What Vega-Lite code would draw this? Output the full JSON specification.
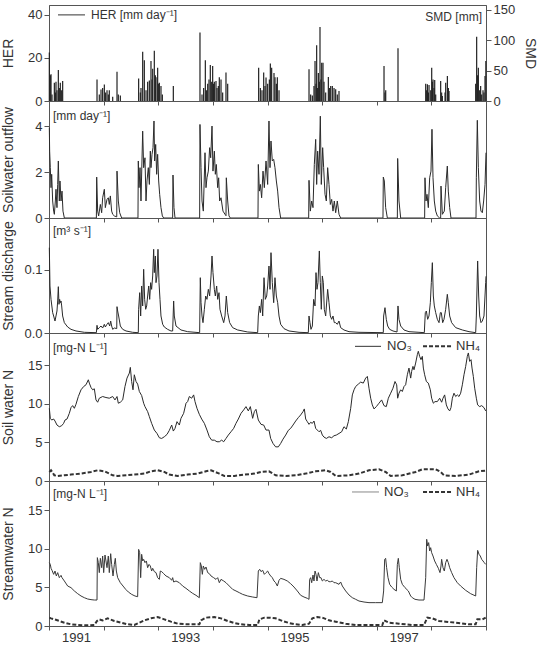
{
  "$schema": "https://vega.github.io/schema/vega-lite/v6.json",
  "background": "white",
  "padding": {"left": 0, "top": 3, "right": 2, "bottom": 0},
  "spacing": 0,
  "bounds": "flush",
  "config": {
    "font": "Liberation Sans",
    "view": {"stroke": "#555", "strokeWidth": 1},
    "axis": {"labelFontSize": 13, "labelColor": "#333", "titleFontSize": 14, "titleFontWeight": "normal", "titleColor": "#333", "tickColor": "#555", "domainColor": "#555", "tickSize": 4, "labelPadding": 2, "grid": false},
    "axisY": {"tickSize": 5, "titleX": -37, "titleBaseline": "alphabetic"},
    "text": {"color": "#333", "fontSize": 12}
  },
  "datasets": {
    "her": [
      {"t":1991.006,"v":22.5},{"t":1991.024,"v":12},{"t":1991.037,"v":12.4},{"t":1991.055,"v":3},{"t":1991.098,"v":8.5},{"t":1991.116,"v":4},{"t":1991.128,"v":9},{"t":1991.146,"v":5},{"t":1991.171,"v":14.4},{"t":1991.189,"v":6},{"t":1991.207,"v":8.5},{"t":1991.226,"v":5},{"t":1991.250,"v":9.3},
      {"t":1991.879,"v":10},{"t":1991.921,"v":3},{"t":1991.952,"v":5.4},{"t":1991.982,"v":6},{"t":1992.013,"v":7.7},{"t":1992.037,"v":4},{"t":1992.062,"v":5},{"t":1992.086,"v":3},{"t":1992.104,"v":5},{"t":1992.166,"v":2},{"t":1992.245,"v":13.6},{"t":1992.269,"v":3},{"t":1992.306,"v":2.5},
      {"t":1992.641,"v":10.5},{"t":1992.672,"v":4},{"t":1992.684,"v":6},{"t":1992.715,"v":22.9},{"t":1992.745,"v":18.9},{"t":1992.776,"v":5},{"t":1992.806,"v":9},{"t":1992.837,"v":9.5},{"t":1992.867,"v":18.6},{"t":1992.886,"v":10},{"t":1992.898,"v":15},{"t":1992.928,"v":23.3},{"t":1992.947,"v":12},{"t":1992.959,"v":11},{"t":1992.989,"v":15.5},{"t":1993.008,"v":8},{"t":1993.020,"v":8.5},{"t":1993.050,"v":7},{"t":1993.075,"v":3},{"t":1993.276,"v":7},
      {"t":1993.764,"v":31.8},{"t":1993.801,"v":3},{"t":1993.831,"v":6},{"t":1993.862,"v":18.9},{"t":1993.886,"v":5},{"t":1993.905,"v":8},{"t":1993.929,"v":10},{"t":1993.953,"v":16.7},{"t":1993.978,"v":9},{"t":1993.996,"v":16.3},{"t":1994.014,"v":8},{"t":1994.027,"v":9},{"t":1994.057,"v":9.3},{"t":1994.076,"v":6},{"t":1994.100,"v":7},{"t":1994.118,"v":11},{"t":1994.149,"v":10},{"t":1994.179,"v":4},{"t":1994.240,"v":13.2},{"t":1994.271,"v":8},
      {"t":1994.838,"v":15.5},{"t":1994.869,"v":6},{"t":1994.899,"v":5},{"t":1994.930,"v":13.2},{"t":1994.954,"v":7},{"t":1994.973,"v":10.9},{"t":1995.003,"v":8},{"t":1995.034,"v":10},{"t":1995.052,"v":17.4},{"t":1995.076,"v":15.5},{"t":1995.119,"v":13},{"t":1995.137,"v":11},{"t":1995.162,"v":8},{"t":1995.180,"v":11},{"t":1995.211,"v":5},
      {"t":1995.760,"v":14.7},{"t":1995.790,"v":3},{"t":1995.821,"v":2.5},{"t":1995.851,"v":7},{"t":1995.870,"v":18.6},{"t":1995.888,"v":8},{"t":1995.900,"v":25.9},{"t":1995.918,"v":6},{"t":1995.931,"v":13},{"t":1995.949,"v":9},{"t":1995.961,"v":34.4},{"t":1995.979,"v":10},{"t":1995.992,"v":17.8},{"t":1996.016,"v":17.8},{"t":1996.034,"v":9},{"t":1996.065,"v":4},{"t":1996.114,"v":11.2},{"t":1996.138,"v":6},{"t":1996.157,"v":7},{"t":1996.187,"v":7},{"t":1996.218,"v":6},{"t":1996.248,"v":5.5},{"t":1996.278,"v":3},{"t":1996.309,"v":4.6},
      {"t":1997.133,"v":16.3},{"t":1997.151,"v":4},{"t":1997.164,"v":5},{"t":1997.389,"v":24.5},
      {"t":1997.896,"v":8},{"t":1997.914,"v":5},{"t":1997.927,"v":7.8},{"t":1997.945,"v":4},{"t":1997.957,"v":7.4},{"t":1997.988,"v":5},{"t":1998.006,"v":15.5},{"t":1998.018,"v":9},{"t":1998.030,"v":10},{"t":1998.048,"v":6},{"t":1998.061,"v":9.8},{"t":1998.079,"v":3},{"t":1998.170,"v":9.3},{"t":1998.188,"v":4},{"t":1998.201,"v":2.3},{"t":1998.250,"v":4},{"t":1998.262,"v":8.5},{"t":1998.293,"v":11.6},{"t":1998.311,"v":6},{"t":1998.323,"v":4.6},
      {"t":1998.811,"v":8},{"t":1998.829,"v":29.8},{"t":1998.847,"v":12},{"t":1998.860,"v":15.5},{"t":1998.884,"v":5},{"t":1998.902,"v":7},{"t":1998.921,"v":3},{"t":1998.945,"v":5},{"t":1998.963,"v":4},{"t":1998.982,"v":11.6},{"t":1998.997,"v":18.6}
    ],
    "soilwater": [
      {"t":1991.006,"v":3.93},{"t":1991.012,"v":2.91},{"t":1991.024,"v":2.19},{"t":1991.037,"v":1.32},{"t":1991.049,"v":1.90},{"t":1991.067,"v":0.74},{"t":1991.085,"v":0.30},{"t":1991.098,"v":0.16},{"t":1991.116,"v":0.74},{"t":1991.128,"v":1.25},{"t":1991.146,"v":0.45},{"t":1991.159,"v":1.46},{"t":1991.171,"v":2.48},{"t":1991.189,"v":0.74},{"t":1991.201,"v":1.61},{"t":1991.220,"v":0.74},{"t":1991.238,"v":1.17},{"t":1991.256,"v":0.30},{"t":1991.281,"v":0},
      {"t":1991.867,"v":0},{"t":1991.873,"v":1.78},{"t":1991.891,"v":0.30},{"t":1991.909,"v":0.09},{"t":1991.940,"v":0.59},{"t":1991.964,"v":0.23},{"t":1991.982,"v":0.88},{"t":1992.013,"v":1.25},{"t":1992.031,"v":0.45},{"t":1992.062,"v":0.81},{"t":1992.086,"v":0.88},{"t":1992.104,"v":0.59},{"t":1992.123,"v":0.96},{"t":1992.147,"v":0.30},{"t":1992.166,"v":0.16},{"t":1992.196,"v":0.09},{"t":1992.240,"v":0.05},{"t":1992.245,"v":2.04},{"t":1992.269,"v":0.74},{"t":1992.294,"v":0.23},{"t":1992.330,"v":0},
      {"t":1992.629,"v":0},{"t":1992.635,"v":2.48},{"t":1992.648,"v":1.32},{"t":1992.666,"v":2.19},{"t":1992.684,"v":0.74},{"t":1992.715,"v":3.78},{"t":1992.733,"v":2.19},{"t":1992.757,"v":2.62},{"t":1992.776,"v":0.74},{"t":1992.794,"v":1.61},{"t":1992.818,"v":2.19},{"t":1992.837,"v":1.46},{"t":1992.855,"v":2.91},{"t":1992.867,"v":2.19},{"t":1992.886,"v":2.77},{"t":1992.904,"v":3.06},{"t":1992.922,"v":4.22},{"t":1992.934,"v":2.48},{"t":1992.953,"v":3.20},{"t":1992.971,"v":1.90},{"t":1992.989,"v":2.77},{"t":1993.008,"v":1.61},{"t":1993.026,"v":1.03},{"t":1993.050,"v":0.45},{"t":1993.075,"v":0.09},{"t":1993.099,"v":0},
      {"t":1993.264,"v":0},{"t":1993.270,"v":1.87},{"t":1993.288,"v":0.45},{"t":1993.307,"v":0},
      {"t":1993.758,"v":0},{"t":1993.764,"v":4.07},{"t":1993.783,"v":2.19},{"t":1993.801,"v":0.74},{"t":1993.825,"v":0.30},{"t":1993.856,"v":2.84},{"t":1993.874,"v":1.32},{"t":1993.892,"v":1.75},{"t":1993.917,"v":2.04},{"t":1993.941,"v":3.06},{"t":1993.960,"v":2.62},{"t":1993.984,"v":4.00},{"t":1994.002,"v":2.04},{"t":1994.027,"v":2.91},{"t":1994.045,"v":1.90},{"t":1994.063,"v":2.33},{"t":1994.088,"v":1.32},{"t":1994.106,"v":1.75},{"t":1994.124,"v":0.74},{"t":1994.149,"v":0.88},{"t":1994.185,"v":0.30},{"t":1994.222,"v":0.16},{"t":1994.240,"v":0.10},{"t":1994.246,"v":1.75},{"t":1994.271,"v":0.74},{"t":1994.295,"v":0.09},{"t":1994.320,"v":0},
      {"t":1994.826,"v":0},{"t":1994.832,"v":2.33},{"t":1994.851,"v":1.17},{"t":1994.869,"v":1.46},{"t":1994.893,"v":0.88},{"t":1994.918,"v":2.04},{"t":1994.942,"v":1.32},{"t":1994.973,"v":2.48},{"t":1995.003,"v":1.46},{"t":1995.027,"v":4.22},{"t":1995.046,"v":2.19},{"t":1995.064,"v":3.35},{"t":1995.088,"v":2.48},{"t":1995.113,"v":2.55},{"t":1995.137,"v":2.19},{"t":1995.162,"v":1.61},{"t":1995.186,"v":1.17},{"t":1995.211,"v":0.45},{"t":1995.241,"v":0},
      {"t":1995.754,"v":0},{"t":1995.760,"v":1.64},{"t":1995.784,"v":0.30},{"t":1995.809,"v":0.74},{"t":1995.833,"v":0.45},{"t":1995.857,"v":2.33},{"t":1995.882,"v":3.42},{"t":1995.900,"v":1.46},{"t":1995.918,"v":2.91},{"t":1995.943,"v":1.90},{"t":1995.967,"v":4.43},{"t":1995.985,"v":1.46},{"t":1996.010,"v":3.06},{"t":1996.028,"v":2.19},{"t":1996.053,"v":1.03},{"t":1996.077,"v":0.74},{"t":1996.101,"v":2.19},{"t":1996.126,"v":1.46},{"t":1996.150,"v":0.59},{"t":1996.175,"v":0.81},{"t":1996.199,"v":0.30},{"t":1996.223,"v":0.74},{"t":1996.248,"v":0.23},{"t":1996.278,"v":0.74},{"t":1996.309,"v":0.16},{"t":1996.339,"v":0},
      {"t":1997.114,"v":0},{"t":1997.120,"v":1.78},{"t":1997.139,"v":1.61},{"t":1997.163,"v":0.45},{"t":1997.194,"v":0},
      {"t":1997.377,"v":0},{"t":1997.383,"v":2.59},{"t":1997.407,"v":0.74},{"t":1997.438,"v":0},
      {"t":1997.877,"v":0},{"t":1997.883,"v":1.75},{"t":1997.902,"v":0.74},{"t":1997.920,"v":1.03},{"t":1997.944,"v":0.45},{"t":1997.969,"v":1.75},{"t":1997.993,"v":2.04},{"t":1998.011,"v":3.86},{"t":1998.030,"v":1.75},{"t":1998.054,"v":0.74},{"t":1998.079,"v":0.30},{"t":1998.109,"v":0.09},{"t":1998.152,"v":0},
      {"t":1998.170,"v":0},{"t":1998.176,"v":1.39},{"t":1998.201,"v":0.16},{"t":1998.237,"v":0.30},{"t":1998.262,"v":1.32},{"t":1998.292,"v":2.26},{"t":1998.310,"v":1.17},{"t":1998.335,"v":0.45},{"t":1998.359,"v":0},
      {"t":1998.817,"v":0},{"t":1998.823,"v":1.75},{"t":1998.841,"v":4.25},{"t":1998.860,"v":2.19},{"t":1998.884,"v":0.74},{"t":1998.908,"v":0.30},{"t":1998.933,"v":0.23},{"t":1998.957,"v":0.74},{"t":1998.982,"v":1.46},{"t":1999.000,"v":2.84}
    ],
    "discharge": [
      {"t":1991.006,"v":0.1354},{"t":1991.018,"v":0.0746},{"t":1991.037,"v":0.0534},{"t":1991.067,"v":0.0323},{"t":1991.085,"v":0.0270},{"t":1991.110,"v":0.0190},{"t":1991.128,"v":0.0270},{"t":1991.146,"v":0.0349},{"t":1991.159,"v":0.0508},{"t":1991.171,"v":0.0735},{"t":1991.183,"v":0.0455},{"t":1991.195,"v":0.0534},{"t":1991.207,"v":0.0481},{"t":1991.220,"v":0.0508},{"t":1991.232,"v":0.0429},{"t":1991.250,"v":0.0270},{"t":1991.281,"v":0.0164},{"t":1991.342,"v":0.0095},{"t":1991.403,"v":0.0058},{"t":1991.494,"v":0.0032},{"t":1991.647,"v":0.0011},{"t":1991.867,"v":0.0005},
      {"t":1991.879,"v":0.0122},{"t":1991.891,"v":0.0058},{"t":1991.921,"v":0.0085},{"t":1991.952,"v":0.0111},{"t":1991.982,"v":0.0079},{"t":1992.013,"v":0.0138},{"t":1992.031,"v":0.0095},{"t":1992.062,"v":0.0138},{"t":1992.086,"v":0.0164},{"t":1992.111,"v":0.0111},{"t":1992.129,"v":0.0190},{"t":1992.147,"v":0.0111},{"t":1992.166,"v":0.0058},{"t":1992.196,"v":0.0079},{"t":1992.240,"v":0.0070},{"t":1992.245,"v":0.0418},{"t":1992.257,"v":0.0349},{"t":1992.275,"v":0.0270},{"t":1992.306,"v":0.0111},{"t":1992.349,"v":0.0058},{"t":1992.410,"v":0.0032},{"t":1992.532,"v":0.0011},{"t":1992.635,"v":0.0005},
      {"t":1992.641,"v":0.0376},{"t":1992.660,"v":0.0640},{"t":1992.678,"v":0.0270},{"t":1992.696,"v":0.0746},{"t":1992.715,"v":0.0429},{"t":1992.733,"v":0.1011},{"t":1992.751,"v":0.0534},{"t":1992.770,"v":0.0376},{"t":1992.788,"v":0.0429},{"t":1992.806,"v":0.0587},{"t":1992.825,"v":0.0746},{"t":1992.843,"v":0.0534},{"t":1992.861,"v":0.0799},{"t":1992.879,"v":0.0693},{"t":1992.898,"v":0.0905},{"t":1992.916,"v":0.1328},{"t":1992.928,"v":0.0958},{"t":1992.947,"v":0.1222},{"t":1992.959,"v":0.0799},{"t":1992.977,"v":0.0905},{"t":1992.995,"v":0.1328},{"t":1993.014,"v":0.0799},{"t":1993.032,"v":0.0534},{"t":1993.050,"v":0.0270},{"t":1993.081,"v":0.0138},{"t":1993.111,"v":0.0095},{"t":1993.172,"v":0.0058},{"t":1993.233,"v":0.0032},{"t":1993.264,"v":0.0032},{"t":1993.282,"v":0.0508},{"t":1993.294,"v":0.0270},{"t":1993.325,"v":0.0111},{"t":1993.416,"v":0.0048},{"t":1993.538,"v":0.0021},{"t":1993.758,"v":0.0005},
      {"t":1993.770,"v":0.0878},{"t":1993.783,"v":0.0481},{"t":1993.801,"v":0.0270},{"t":1993.819,"v":0.0164},{"t":1993.844,"v":0.0376},{"t":1993.868,"v":0.0587},{"t":1993.892,"v":0.0534},{"t":1993.917,"v":0.0693},{"t":1993.941,"v":0.0587},{"t":1993.966,"v":0.0905},{"t":1993.984,"v":0.1222},{"t":1994.002,"v":0.0958},{"t":1994.027,"v":0.0693},{"t":1994.045,"v":0.0587},{"t":1994.069,"v":0.0746},{"t":1994.088,"v":0.0534},{"t":1994.112,"v":0.0640},{"t":1994.130,"v":0.0376},{"t":1994.161,"v":0.0270},{"t":1994.198,"v":0.0164},{"t":1994.222,"v":0.0270},{"t":1994.246,"v":0.0587},{"t":1994.271,"v":0.0323},{"t":1994.307,"v":0.0164},{"t":1994.362,"v":0.0085},{"t":1994.454,"v":0.0048},{"t":1994.637,"v":0.0016},{"t":1994.820,"v":0.0005},
      {"t":1994.832,"v":0.0270},{"t":1994.851,"v":0.0429},{"t":1994.869,"v":0.0323},{"t":1994.893,"v":0.0534},{"t":1994.912,"v":0.0270},{"t":1994.936,"v":0.0878},{"t":1994.960,"v":0.0534},{"t":1994.985,"v":0.0587},{"t":1995.003,"v":0.0746},{"t":1995.027,"v":0.1063},{"t":1995.046,"v":0.0693},{"t":1995.064,"v":0.1275},{"t":1995.088,"v":0.0799},{"t":1995.113,"v":0.0481},{"t":1995.137,"v":0.0878},{"t":1995.162,"v":0.0587},{"t":1995.186,"v":0.0481},{"t":1995.211,"v":0.0270},{"t":1995.241,"v":0.0138},{"t":1995.302,"v":0.0069},{"t":1995.394,"v":0.0032},{"t":1995.577,"v":0.0011},{"t":1995.747,"v":0.0005},
      {"t":1995.760,"v":0.0270},{"t":1995.778,"v":0.0164},{"t":1995.796,"v":0.0058},{"t":1995.821,"v":0.0111},{"t":1995.845,"v":0.0534},{"t":1995.870,"v":0.0429},{"t":1995.888,"v":0.0958},{"t":1995.906,"v":0.0693},{"t":1995.924,"v":0.0799},{"t":1995.949,"v":0.1302},{"t":1995.967,"v":0.0799},{"t":1995.985,"v":0.0376},{"t":1996.004,"v":0.0905},{"t":1996.022,"v":0.0799},{"t":1996.040,"v":0.0376},{"t":1996.065,"v":0.0270},{"t":1996.101,"v":0.0693},{"t":1996.126,"v":0.0481},{"t":1996.150,"v":0.0270},{"t":1996.175,"v":0.0217},{"t":1996.199,"v":0.0270},{"t":1996.223,"v":0.0164},{"t":1996.248,"v":0.0164},{"t":1996.278,"v":0.0138},{"t":1996.309,"v":0.0190},{"t":1996.339,"v":0.0085},{"t":1996.400,"v":0.0048},{"t":1996.492,"v":0.0021},{"t":1996.675,"v":0.0011},{"t":1997.120,"v":0.0005},
      {"t":1997.126,"v":0.0270},{"t":1997.151,"v":0.0402},{"t":1997.175,"v":0.0217},{"t":1997.200,"v":0.0111},{"t":1997.236,"v":0.0058},{"t":1997.297,"v":0.0032},{"t":1997.371,"v":0.0016},{"t":1997.389,"v":0.0429},{"t":1997.407,"v":0.0217},{"t":1997.438,"v":0.0111},{"t":1997.499,"v":0.0048},{"t":1997.590,"v":0.0021},{"t":1997.773,"v":0.0011},{"t":1997.871,"v":0.0005},
      {"t":1997.889,"v":0.0323},{"t":1997.908,"v":0.0349},{"t":1997.932,"v":0.0217},{"t":1997.956,"v":0.0270},{"t":1997.981,"v":0.0481},{"t":1997.999,"v":0.0799},{"t":1998.018,"v":0.1116},{"t":1998.036,"v":0.0587},{"t":1998.054,"v":0.0429},{"t":1998.079,"v":0.0323},{"t":1998.109,"v":0.0217},{"t":1998.140,"v":0.0164},{"t":1998.164,"v":0.0323},{"t":1998.182,"v":0.0323},{"t":1998.207,"v":0.0164},{"t":1998.231,"v":0.0217},{"t":1998.262,"v":0.0376},{"t":1998.292,"v":0.0614},{"t":1998.310,"v":0.0481},{"t":1998.335,"v":0.0270},{"t":1998.371,"v":0.0164},{"t":1998.445,"v":0.0085},{"t":1998.567,"v":0.0048},{"t":1998.689,"v":0.0021},{"t":1998.811,"v":0.0005},
      {"t":1998.823,"v":0.0270},{"t":1998.847,"v":0.1143},{"t":1998.866,"v":0.0587},{"t":1998.884,"v":0.0270},{"t":1998.908,"v":0.0164},{"t":1998.933,"v":0.0190},{"t":1998.963,"v":0.0270},{"t":1998.994,"v":0.0799},{"t":1999.000,"v":0.0900}
    ],
    "soilNO3": [
      {"t":1991.006,"v":9.43},{"t":1991.024,"v":8.13},{"t":1991.049,"v":7.91},{"t":1991.085,"v":8.04},{"t":1991.110,"v":7.78},{"t":1991.146,"v":7.26},{"t":1991.189,"v":7.04},{"t":1991.232,"v":7.17},{"t":1991.268,"v":7.48},{"t":1991.293,"v":7.91},{"t":1991.330,"v":8.04},{"t":1991.372,"v":8.78},{"t":1991.403,"v":9.52},{"t":1991.433,"v":9.78},{"t":1991.464,"v":9.43},{"t":1991.494,"v":9.96},{"t":1991.537,"v":10.96},{"t":1991.586,"v":11.83},{"t":1991.635,"v":12.26},{"t":1991.677,"v":12.48},{"t":1991.720,"v":13.13},{"t":1991.738,"v":12.70},{"t":1991.769,"v":12.13},{"t":1991.799,"v":11.83},{"t":1991.830,"v":11.96},{"t":1991.860,"v":10.52},{"t":1991.891,"v":10.22},{"t":1991.921,"v":10.74},{"t":1991.982,"v":10.96},{"t":1992.043,"v":10.83},{"t":1992.104,"v":10.74},{"t":1992.166,"v":10.96},{"t":1992.208,"v":10.52},{"t":1992.245,"v":10.96},{"t":1992.269,"v":10.09},{"t":1992.306,"v":10.22},{"t":1992.349,"v":10.52},{"t":1992.391,"v":12.26},{"t":1992.428,"v":13.35},{"t":1992.471,"v":14.00},{"t":1992.489,"v":14.74},{"t":1992.513,"v":12.91},{"t":1992.538,"v":11.83},{"t":1992.562,"v":13.78},{"t":1992.593,"v":12.91},{"t":1992.623,"v":12.57},{"t":1992.654,"v":11.61},{"t":1992.696,"v":11.09},{"t":1992.733,"v":10.09},{"t":1992.757,"v":9.65},{"t":1992.806,"v":9.00},{"t":1992.837,"v":8.35},{"t":1992.879,"v":7.48},{"t":1992.928,"v":6.61},{"t":1992.977,"v":6.17},{"t":1993.020,"v":5.61},{"t":1993.063,"v":5.52},{"t":1993.111,"v":5.74},{"t":1993.160,"v":6.04},{"t":1993.203,"v":6.57},{"t":1993.246,"v":7.26},{"t":1993.276,"v":6.48},{"t":1993.307,"v":6.83},{"t":1993.343,"v":7.70},{"t":1993.386,"v":7.26},{"t":1993.416,"v":8.13},{"t":1993.465,"v":8.78},{"t":1993.508,"v":10.09},{"t":1993.538,"v":10.30},{"t":1993.569,"v":10.96},{"t":1993.612,"v":10.74},{"t":1993.648,"v":11.17},{"t":1993.673,"v":10.30},{"t":1993.709,"v":9.43},{"t":1993.752,"v":8.65},{"t":1993.795,"v":8.04},{"t":1993.844,"v":7.48},{"t":1993.892,"v":6.61},{"t":1993.935,"v":5.74},{"t":1993.978,"v":5.30},{"t":1994.027,"v":5.30},{"t":1994.075,"v":5.09},{"t":1994.118,"v":5.09},{"t":1994.161,"v":5.30},{"t":1994.198,"v":5.09},{"t":1994.240,"v":5.52},{"t":1994.283,"v":5.96},{"t":1994.332,"v":6.39},{"t":1994.381,"v":6.83},{"t":1994.423,"v":7.48},{"t":1994.466,"v":8.04},{"t":1994.515,"v":8.78},{"t":1994.564,"v":9.22},{"t":1994.606,"v":9.65},{"t":1994.649,"v":9.09},{"t":1994.686,"v":9.65},{"t":1994.728,"v":8.13},{"t":1994.759,"v":9.00},{"t":1994.789,"v":9.30},{"t":1994.832,"v":7.91},{"t":1994.881,"v":7.35},{"t":1994.930,"v":7.26},{"t":1994.973,"v":6.61},{"t":1995.027,"v":6.61},{"t":1995.058,"v":5.52},{"t":1995.101,"v":4.87},{"t":1995.149,"v":4.43},{"t":1995.198,"v":4.43},{"t":1995.241,"v":4.87},{"t":1995.284,"v":5.43},{"t":1995.333,"v":5.96},{"t":1995.381,"v":6.57},{"t":1995.424,"v":6.83},{"t":1995.467,"v":7.26},{"t":1995.516,"v":7.78},{"t":1995.564,"v":8.22},{"t":1995.607,"v":8.57},{"t":1995.650,"v":9.00},{"t":1995.674,"v":9.35},{"t":1995.699,"v":8.04},{"t":1995.729,"v":7.70},{"t":1995.760,"v":7.35},{"t":1995.790,"v":7.61},{"t":1995.821,"v":7.48},{"t":1995.851,"v":7.78},{"t":1995.882,"v":6.83},{"t":1995.912,"v":6.61},{"t":1995.943,"v":6.39},{"t":1995.973,"v":6.57},{"t":1996.004,"v":5.96},{"t":1996.034,"v":5.70},{"t":1996.077,"v":5.52},{"t":1996.126,"v":5.74},{"t":1996.175,"v":5.61},{"t":1996.217,"v":5.87},{"t":1996.260,"v":5.96},{"t":1996.309,"v":6.17},{"t":1996.358,"v":6.39},{"t":1996.400,"v":7.04},{"t":1996.443,"v":6.74},{"t":1996.480,"v":7.70},{"t":1996.523,"v":9.43},{"t":1996.553,"v":11.17},{"t":1996.584,"v":11.83},{"t":1996.614,"v":12.26},{"t":1996.663,"v":12.57},{"t":1996.706,"v":12.83},{"t":1996.754,"v":12.70},{"t":1996.797,"v":13.35},{"t":1996.828,"v":13.57},{"t":1996.858,"v":12.04},{"t":1996.889,"v":10.74},{"t":1996.919,"v":9.87},{"t":1996.950,"v":9.35},{"t":1996.992,"v":9.65},{"t":1997.041,"v":10.09},{"t":1997.089,"v":10.52},{"t":1997.132,"v":9.78},{"t":1997.175,"v":9.65},{"t":1997.212,"v":10.74},{"t":1997.255,"v":11.39},{"t":1997.297,"v":12.04},{"t":1997.334,"v":12.91},{"t":1997.365,"v":12.48},{"t":1997.383,"v":10.74},{"t":1997.407,"v":11.39},{"t":1997.438,"v":11.83},{"t":1997.468,"v":11.61},{"t":1997.499,"v":12.26},{"t":1997.529,"v":12.48},{"t":1997.560,"v":13.78},{"t":1997.590,"v":14.65},{"t":1997.621,"v":13.35},{"t":1997.639,"v":14.22},{"t":1997.663,"v":14.87},{"t":1997.682,"v":14.43},{"t":1997.712,"v":15.30},{"t":1997.743,"v":16.39},{"t":1997.761,"v":16.83},{"t":1997.785,"v":16.17},{"t":1997.810,"v":15.74},{"t":1997.834,"v":16.17},{"t":1997.853,"v":14.65},{"t":1997.877,"v":13.78},{"t":1997.908,"v":12.91},{"t":1997.944,"v":12.70},{"t":1997.981,"v":11.83},{"t":1998.005,"v":10.74},{"t":1998.036,"v":10.09},{"t":1998.066,"v":10.30},{"t":1998.109,"v":10.30},{"t":1998.152,"v":10.74},{"t":1998.188,"v":10.22},{"t":1998.213,"v":10.74},{"t":1998.243,"v":11.17},{"t":1998.274,"v":9.87},{"t":1998.304,"v":9.35},{"t":1998.335,"v":9.09},{"t":1998.359,"v":9.52},{"t":1998.384,"v":10.74},{"t":1998.414,"v":11.39},{"t":1998.445,"v":10.96},{"t":1998.475,"v":11.17},{"t":1998.506,"v":10.96},{"t":1998.536,"v":11.39},{"t":1998.567,"v":12.48},{"t":1998.597,"v":13.78},{"t":1998.628,"v":14.87},{"t":1998.658,"v":16.17},{"t":1998.677,"v":16.61},{"t":1998.701,"v":15.52},{"t":1998.726,"v":15.74},{"t":1998.744,"v":14.65},{"t":1998.768,"v":13.57},{"t":1998.793,"v":12.04},{"t":1998.823,"v":10.74},{"t":1998.847,"v":9.87},{"t":1998.884,"v":9.65},{"t":1998.921,"v":9.78},{"t":1998.963,"v":9.52},{"t":1998.994,"v":9.09}
    ],
    "soilNH4": [
      {"t":1991.006,"v":1.17},{"t":1991.037,"v":1.39},{"t":1991.067,"v":1.09},{"t":1991.098,"v":0.74},{"t":1991.159,"v":0.65},{"t":1991.281,"v":0.74},{"t":1991.403,"v":0.83},{"t":1991.586,"v":0.96},{"t":1991.769,"v":1.17},{"t":1991.891,"v":1.39},{"t":1992.013,"v":1.26},{"t":1992.104,"v":0.96},{"t":1992.166,"v":0.74},{"t":1992.257,"v":0.65},{"t":1992.562,"v":0.83},{"t":1992.745,"v":0.96},{"t":1992.867,"v":1.26},{"t":1992.989,"v":1.39},{"t":1993.111,"v":1.17},{"t":1993.203,"v":0.83},{"t":1993.355,"v":0.65},{"t":1993.538,"v":0.83},{"t":1993.722,"v":0.96},{"t":1993.874,"v":1.26},{"t":1993.966,"v":1.39},{"t":1994.118,"v":0.96},{"t":1994.210,"v":0.65},{"t":1994.393,"v":0.65},{"t":1994.576,"v":0.83},{"t":1994.759,"v":0.96},{"t":1994.881,"v":1.17},{"t":1995.027,"v":1.26},{"t":1995.149,"v":0.74},{"t":1995.333,"v":0.65},{"t":1995.516,"v":0.74},{"t":1995.699,"v":0.96},{"t":1995.882,"v":1.26},{"t":1996.065,"v":1.39},{"t":1996.156,"v":1.17},{"t":1996.248,"v":0.65},{"t":1996.492,"v":0.74},{"t":1996.675,"v":0.96},{"t":1996.858,"v":1.39},{"t":1997.041,"v":1.52},{"t":1997.163,"v":1.17},{"t":1997.255,"v":0.65},{"t":1997.468,"v":0.74},{"t":1997.712,"v":1.17},{"t":1997.834,"v":1.52},{"t":1998.079,"v":1.52},{"t":1998.170,"v":1.17},{"t":1998.231,"v":0.74},{"t":1998.445,"v":0.65},{"t":1998.689,"v":0.83},{"t":1998.872,"v":1.26},{"t":1998.994,"v":1.35}
    ],
    "streamNO3": [
      {"t":1991.006,"v":8.19},{"t":1991.024,"v":7.97},{"t":1991.037,"v":7.46},{"t":1991.055,"v":7.20},{"t":1991.085,"v":6.68},{"t":1991.110,"v":7.11},{"t":1991.134,"v":6.47},{"t":1991.159,"v":6.90},{"t":1991.189,"v":6.25},{"t":1991.220,"v":6.55},{"t":1991.238,"v":6.25},{"t":1991.281,"v":5.82},{"t":1991.342,"v":5.17},{"t":1991.403,"v":4.96},{"t":1991.464,"v":4.53},{"t":1991.525,"v":4.18},{"t":1991.586,"v":3.88},{"t":1991.647,"v":3.66},{"t":1991.708,"v":3.49},{"t":1991.769,"v":3.41},{"t":1991.830,"v":3.36},{"t":1991.879,"v":3.36},
      {"t":1991.885,"v":8.84},{"t":1991.903,"v":8.19},{"t":1991.921,"v":6.90},{"t":1991.940,"v":8.75},{"t":1991.964,"v":7.54},{"t":1991.982,"v":9.05},{"t":1992.001,"v":6.90},{"t":1992.025,"v":9.18},{"t":1992.043,"v":8.41},{"t":1992.062,"v":7.54},{"t":1992.086,"v":9.05},{"t":1992.104,"v":6.90},{"t":1992.129,"v":9.35},{"t":1992.147,"v":7.97},{"t":1992.172,"v":6.47},{"t":1992.196,"v":7.97},{"t":1992.214,"v":8.75},{"t":1992.233,"v":7.11},{"t":1992.257,"v":6.25},{"t":1992.306,"v":5.60},{"t":1992.355,"v":5.17},{"t":1992.404,"v":4.74},{"t":1992.452,"v":4.40},{"t":1992.513,"v":4.09},{"t":1992.574,"v":3.88},{"t":1992.623,"v":3.79},
      {"t":1992.641,"v":9.91},{"t":1992.660,"v":9.48},{"t":1992.678,"v":6.25},{"t":1992.696,"v":9.27},{"t":1992.715,"v":8.41},{"t":1992.733,"v":8.62},{"t":1992.757,"v":8.19},{"t":1992.782,"v":8.41},{"t":1992.806,"v":7.54},{"t":1992.831,"v":7.97},{"t":1992.855,"v":7.76},{"t":1992.879,"v":7.11},{"t":1992.898,"v":7.46},{"t":1992.928,"v":7.03},{"t":1992.959,"v":6.90},{"t":1992.989,"v":6.25},{"t":1993.020,"v":6.03},{"t":1993.038,"v":7.11},{"t":1993.063,"v":7.03},{"t":1993.099,"v":6.77},{"t":1993.142,"v":6.47},{"t":1993.203,"v":6.25},{"t":1993.246,"v":5.91},{"t":1993.264,"v":6.25},{"t":1993.282,"v":5.69},{"t":1993.325,"v":5.82},{"t":1993.386,"v":5.60},{"t":1993.447,"v":5.17},{"t":1993.508,"v":4.87},{"t":1993.569,"v":4.53},{"t":1993.630,"v":4.22},{"t":1993.691,"v":3.97},{"t":1993.752,"v":3.66},
      {"t":1993.770,"v":8.19},{"t":1993.789,"v":7.76},{"t":1993.807,"v":6.68},{"t":1993.825,"v":7.76},{"t":1993.850,"v":7.33},{"t":1993.874,"v":7.63},{"t":1993.905,"v":6.90},{"t":1993.935,"v":6.77},{"t":1993.966,"v":6.47},{"t":1994.014,"v":6.25},{"t":1994.057,"v":6.03},{"t":1994.088,"v":6.25},{"t":1994.118,"v":5.60},{"t":1994.149,"v":6.03},{"t":1994.198,"v":5.82},{"t":1994.240,"v":5.60},{"t":1994.301,"v":5.17},{"t":1994.362,"v":4.74},{"t":1994.423,"v":4.53},{"t":1994.484,"v":4.31},{"t":1994.545,"v":4.09},{"t":1994.637,"v":3.88},{"t":1994.728,"v":3.75},{"t":1994.808,"v":3.66},
      {"t":1994.832,"v":7.11},{"t":1994.857,"v":7.33},{"t":1994.881,"v":7.03},{"t":1994.912,"v":7.20},{"t":1994.942,"v":6.68},{"t":1994.973,"v":6.90},{"t":1995.003,"v":7.11},{"t":1995.027,"v":6.77},{"t":1995.058,"v":6.47},{"t":1995.088,"v":6.25},{"t":1995.119,"v":5.82},{"t":1995.149,"v":5.60},{"t":1995.180,"v":5.17},{"t":1995.211,"v":5.91},{"t":1995.241,"v":6.16},{"t":1995.302,"v":6.03},{"t":1995.363,"v":5.82},{"t":1995.424,"v":5.47},{"t":1995.485,"v":5.04},{"t":1995.546,"v":4.53},{"t":1995.607,"v":3.97},{"t":1995.668,"v":3.75},{"t":1995.729,"v":3.58},{"t":1995.760,"v":3.45},
      {"t":1995.772,"v":6.03},{"t":1995.790,"v":6.25},{"t":1995.809,"v":5.60},{"t":1995.833,"v":6.59},{"t":1995.851,"v":5.82},{"t":1995.870,"v":7.11},{"t":1995.888,"v":6.68},{"t":1995.906,"v":5.82},{"t":1995.931,"v":6.90},{"t":1995.955,"v":6.25},{"t":1995.979,"v":6.25},{"t":1996.004,"v":5.82},{"t":1996.034,"v":6.03},{"t":1996.065,"v":5.82},{"t":1996.095,"v":5.91},{"t":1996.126,"v":5.73},{"t":1996.156,"v":5.73},{"t":1996.187,"v":5.82},{"t":1996.217,"v":5.60},{"t":1996.248,"v":5.60},{"t":1996.309,"v":5.39},{"t":1996.339,"v":5.69},{"t":1996.370,"v":5.17},{"t":1996.431,"v":4.53},{"t":1996.492,"v":4.01},{"t":1996.553,"v":3.66},{"t":1996.614,"v":3.45},{"t":1996.675,"v":3.23},{"t":1996.767,"v":3.10},{"t":1996.858,"v":3.02},{"t":1996.980,"v":3.02},{"t":1997.102,"v":3.02},
      {"t":1997.126,"v":4.53},{"t":1997.145,"v":8.62},{"t":1997.163,"v":8.75},{"t":1997.181,"v":7.54},{"t":1997.206,"v":6.25},{"t":1997.236,"v":5.39},{"t":1997.273,"v":5.04},{"t":1997.316,"v":4.74},{"t":1997.359,"v":4.53},{"t":1997.377,"v":7.97},{"t":1997.395,"v":8.75},{"t":1997.413,"v":7.54},{"t":1997.438,"v":6.03},{"t":1997.468,"v":5.39},{"t":1997.517,"v":4.96},{"t":1997.578,"v":4.53},{"t":1997.621,"v":3.88},{"t":1997.651,"v":3.66},{"t":1997.700,"v":3.45},{"t":1997.773,"v":3.36},{"t":1997.865,"v":3.36},
      {"t":1997.896,"v":6.25},{"t":1997.914,"v":11.21},{"t":1997.932,"v":10.34},{"t":1997.950,"v":10.78},{"t":1997.969,"v":9.70},{"t":1997.987,"v":10.13},{"t":1998.005,"v":9.48},{"t":1998.030,"v":9.05},{"t":1998.060,"v":8.41},{"t":1998.091,"v":7.97},{"t":1998.128,"v":7.46},{"t":1998.158,"v":6.90},{"t":1998.176,"v":7.76},{"t":1998.188,"v":8.62},{"t":1998.213,"v":7.54},{"t":1998.237,"v":7.11},{"t":1998.262,"v":8.19},{"t":1998.286,"v":8.62},{"t":1998.310,"v":8.19},{"t":1998.335,"v":7.54},{"t":1998.371,"v":6.90},{"t":1998.414,"v":6.25},{"t":1998.475,"v":5.60},{"t":1998.536,"v":5.17},{"t":1998.628,"v":4.61},{"t":1998.719,"v":4.18},{"t":1998.811,"v":3.88},
      {"t":1998.829,"v":7.54},{"t":1998.847,"v":9.78},{"t":1998.872,"v":9.27},{"t":1998.896,"v":9.05},{"t":1998.921,"v":8.62},{"t":1998.945,"v":8.41},{"t":1998.969,"v":8.19},{"t":1998.994,"v":7.97}
    ],
    "streamNH4": [
      {"t":1991.006,"v":1.08},{"t":1991.037,"v":0.99},{"t":1991.098,"v":0.86},{"t":1991.189,"v":0.65},{"t":1991.281,"v":0.43},{"t":1991.403,"v":0.22},{"t":1991.525,"v":0.13},{"t":1991.708,"v":0.09},{"t":1991.830,"v":0.13},{"t":1991.879,"v":0.65},{"t":1991.921,"v":0.86},{"t":1991.982,"v":0.73},{"t":1992.074,"v":0.99},{"t":1992.196,"v":0.65},{"t":1992.318,"v":0.43},{"t":1992.440,"v":0.22},{"t":1992.562,"v":0.13},{"t":1992.654,"v":0.43},{"t":1992.745,"v":0.73},{"t":1992.867,"v":0.99},{"t":1992.989,"v":1.16},{"t":1993.111,"v":0.86},{"t":1993.233,"v":0.56},{"t":1993.355,"v":0.30},{"t":1993.538,"v":0.22},{"t":1993.752,"v":0.22},{"t":1993.783,"v":0.73},{"t":1993.874,"v":1.08},{"t":1994.027,"v":1.16},{"t":1994.149,"v":0.99},{"t":1994.271,"v":0.65},{"t":1994.393,"v":0.39},{"t":1994.515,"v":0.22},{"t":1994.667,"v":0.13},{"t":1994.820,"v":0.13},{"t":1994.851,"v":0.86},{"t":1994.942,"v":1.08},{"t":1995.027,"v":1.08},{"t":1995.149,"v":0.99},{"t":1995.272,"v":0.65},{"t":1995.394,"v":0.39},{"t":1995.516,"v":0.22},{"t":1995.638,"v":0.13},{"t":1995.760,"v":0.30},{"t":1995.821,"v":0.99},{"t":1995.912,"v":1.16},{"t":1996.004,"v":1.08},{"t":1996.126,"v":0.73},{"t":1996.248,"v":0.56},{"t":1996.431,"v":0.30},{"t":1996.614,"v":0.13},{"t":1996.858,"v":0.13},{"t":1997.102,"v":0.13},{"t":1997.132,"v":0.73},{"t":1997.224,"v":0.43},{"t":1997.407,"v":0.30},{"t":1997.651,"v":0.13},{"t":1997.865,"v":0.13},{"t":1997.926,"v":1.08},{"t":1998.018,"v":0.99},{"t":1998.140,"v":0.65},{"t":1998.262,"v":0.56},{"t":1998.445,"v":0.43},{"t":1998.689,"v":0.22},{"t":1998.811,"v":0.22},{"t":1998.841,"v":0.86},{"t":1998.933,"v":0.86},{"t":1998.994,"v":1.08}
    ]
  },
  "vconcat": [
    {
      "width": 437,
      "height": 96,
      "layer": [
        {
          "layer": [
            {
              "data": {"name": "her"},
              "mark": {"type": "rule", "color": "#222", "strokeWidth": 1.2},
              "encoding": {
                "x": {"field": "t", "type": "quantitative", "scale": {"domain": [1991, 1999], "nice": false, "zero": false}, "axis": {"title": null, "values": [1991, 1992, 1993, 1994, 1995, 1996, 1997, 1998, 1999], "labels": false}},
                "y": {"field": "v", "type": "quantitative", "scale": {"domain": [0, 44.6], "nice": false}, "axis": {"title": "HER", "values": [0, 20, 40]}},
                "y2": {"datum": 0}
              }
            },
            {
              "data": {"values": [{}]},
              "mark": {"type": "rule", "color": "#333", "strokeWidth": 1},
              "encoding": {
                "x": {"datum": 1991.165, "type": "quantitative"},
                "x2": {"datum": 1991.659},
                "y": {"datum": 40, "type": "quantitative", "scale": {"domain": [0, 44.6], "nice": false}}
              }
            },
            {
              "data": {"values": [{}]},
              "mark": {"type": "text", "align": "left", "baseline": "middle"},
              "encoding": {
                "x": {"datum": 1991.769, "type": "quantitative"},
                "y": {"datum": 40, "type": "quantitative", "scale": {"domain": [0, 44.6], "nice": false}},
                "text": {"value": "HER  [mm day⁻¹]"}
              }
            }
          ]
        },
        {
          "data": {"values": [{}]},
          "mark": {"type": "text", "align": "right", "baseline": "middle"},
          "encoding": {
            "x": {"datum": 1998.927, "type": "quantitative"},
            "y": {"datum": 138, "type": "quantitative", "scale": {"domain": [0, 158], "nice": false}, "axis": {"orient": "right", "title": "SMD", "values": [0, 50, 100, 150], "titleX": 39, "titleBaseline": "alphabetic"}},
            "text": {"value": "SMD [mm]"}
          }
        }
      ],
      "resolve": {"scale": {"y": "independent"}}
    },
    {
      "width": 437,
      "height": 117,
      "layer": [
        {
          "data": {"name": "soilwater"},
          "mark": {"type": "line", "color": "#2a2a2a", "strokeWidth": 1},
          "encoding": {
            "x": {"field": "t", "type": "quantitative", "scale": {"domain": [1991, 1999], "nice": false, "zero": false}, "axis": {"title": null, "values": [1991, 1992, 1993, 1994, 1995, 1996, 1997, 1998, 1999], "labels": false}},
            "y": {"field": "v", "type": "quantitative", "scale": {"domain": [0, 5.09], "nice": false}, "axis": {"title": "Soilwater outflow", "values": [0, 2, 4]}}
          }
        },
        {
          "data": {"values": [{}]},
          "mark": {"type": "text", "align": "left", "baseline": "middle"},
          "encoding": {
            "x": {"datum": 1991.073, "type": "quantitative"},
            "y": {"datum": 4.43, "type": "quantitative"},
            "text": {"value": "[mm day⁻¹]"}
          }
        }
      ]
    },
    {
      "width": 437,
      "height": 115,
      "layer": [
        {
          "data": {"name": "discharge"},
          "mark": {"type": "line", "color": "#2a2a2a", "strokeWidth": 1},
          "encoding": {
            "x": {"field": "t", "type": "quantitative", "scale": {"domain": [1991, 1999], "nice": false, "zero": false}, "axis": {"title": null, "values": [1991, 1992, 1993, 1994, 1995, 1996, 1997, 1998, 1999], "labels": false}},
            "y": {"field": "v", "type": "quantitative", "scale": {"domain": [0, 0.1825], "nice": false}, "axis": {"title": "Stream discharge", "values": [0, 0.1], "format": ".1f"}}
          }
        },
        {
          "data": {"values": [{}]},
          "mark": {"type": "text", "align": "left", "baseline": "middle"},
          "encoding": {
            "x": {"datum": 1991.073, "type": "quantitative"},
            "y": {"datum": 0.162, "type": "quantitative"},
            "text": {"value": "[m³ s⁻¹]"}
          }
        }
      ]
    },
    {
      "width": 437,
      "height": 148,
      "layer": [
        {
          "data": {"name": "soilNO3"},
          "mark": {"type": "line", "color": "#2a2a2a", "strokeWidth": 1},
          "encoding": {
            "x": {"field": "t", "type": "quantitative", "scale": {"domain": [1991, 1999], "nice": false, "zero": false}, "axis": {"title": null, "values": [1991, 1992, 1993, 1994, 1995, 1996, 1997, 1998, 1999], "labels": false}},
            "y": {"field": "v", "type": "quantitative", "scale": {"domain": [0, 19.2], "nice": false}, "axis": {"title": "Soil water N", "values": [0, 5, 10, 15]}}
          }
        },
        {
          "data": {"name": "soilNH4"},
          "mark": {"type": "line", "color": "#333", "strokeWidth": 2, "strokeDash": [4, 2]},
          "encoding": {
            "x": {"field": "t", "type": "quantitative"},
            "y": {"field": "v", "type": "quantitative"}
          }
        },
        {
          "data": {"values": [{}]},
          "mark": {"type": "text", "align": "left", "baseline": "middle"},
          "encoding": {"x": {"datum": 1991.073, "type": "quantitative"}, "y": {"datum": 17.2, "type": "quantitative"}, "text": {"value": "[mg-N L⁻¹]"}}
        },
        {
          "data": {"values": [{}]},
          "mark": {"type": "rule", "color": "#333", "strokeWidth": 1},
          "encoding": {"x": {"datum": 1996.602, "type": "quantitative"}, "x2": {"datum": 1997.078}, "y": {"datum": 17.47, "type": "quantitative"}}
        },
        {
          "data": {"values": [{}]},
          "mark": {"type": "text", "align": "left", "baseline": "middle", "fontSize": 13},
          "encoding": {"x": {"datum": 1997.188, "type": "quantitative"}, "y": {"datum": 17.47, "type": "quantitative"}, "text": {"value": "NO₃"}}
        },
        {
          "data": {"values": [{}]},
          "mark": {"type": "rule", "color": "#333", "strokeWidth": 2, "strokeDash": [4, 2]},
          "encoding": {"x": {"datum": 1997.847, "type": "quantitative"}, "x2": {"datum": 1998.378}, "y": {"datum": 17.47, "type": "quantitative"}}
        },
        {
          "data": {"values": [{}]},
          "mark": {"type": "text", "align": "left", "baseline": "middle", "fontSize": 13},
          "encoding": {"x": {"datum": 1998.451, "type": "quantitative"}, "y": {"datum": 17.47, "type": "quantitative"}, "text": {"value": "NH₄"}}
        }
      ]
    },
    {
      "width": 437,
      "height": 145,
      "layer": [
        {
          "data": {"name": "streamNO3"},
          "mark": {"type": "line", "color": "#3a3a3a", "strokeWidth": 1},
          "encoding": {
            "x": {"field": "t", "type": "quantitative", "scale": {"domain": [1991, 1999], "nice": false, "zero": false}, "axis": {"title": null, "values": [1991, 1992, 1993, 1994, 1995, 1996, 1997, 1998, 1999], "format": "d", "labelExpr": "datum.value % 2 == 1 && datum.value < 1999 ? datum.label : ''", "labelOffset": 27, "labelFlush": false, "labelOverlap": false, "labelPadding": 1}},
            "y": {"field": "v", "type": "quantitative", "scale": {"domain": [0, 18.75], "nice": false}, "axis": {"title": "Streamwater N", "values": [0, 5, 10, 15]}}
          }
        },
        {
          "data": {"name": "streamNH4"},
          "mark": {"type": "line", "color": "#333", "strokeWidth": 2, "strokeDash": [4, 2]},
          "encoding": {
            "x": {"field": "t", "type": "quantitative"},
            "y": {"field": "v", "type": "quantitative"}
          }
        },
        {
          "data": {"values": [{}]},
          "mark": {"type": "text", "align": "left", "baseline": "middle"},
          "encoding": {"x": {"datum": 1991.073, "type": "quantitative"}, "y": {"datum": 17.08, "type": "quantitative"}, "text": {"value": "[mg-N L⁻¹]"}}
        },
        {
          "data": {"values": [{}]},
          "mark": {"type": "rule", "color": "#888", "strokeWidth": 1},
          "encoding": {"x": {"datum": 1996.547, "type": "quantitative"}, "x2": {"datum": 1997.041}, "y": {"datum": 17.33, "type": "quantitative"}}
        },
        {
          "data": {"values": [{}]},
          "mark": {"type": "text", "align": "left", "baseline": "middle", "fontSize": 13},
          "encoding": {"x": {"datum": 1997.133, "type": "quantitative"}, "y": {"datum": 17.33, "type": "quantitative"}, "text": {"value": "NO₃"}}
        },
        {
          "data": {"values": [{}]},
          "mark": {"type": "rule", "color": "#333", "strokeWidth": 2, "strokeDash": [4, 2]},
          "encoding": {"x": {"datum": 1997.847, "type": "quantitative"}, "x2": {"datum": 1998.378}, "y": {"datum": 17.33, "type": "quantitative"}}
        },
        {
          "data": {"values": [{}]},
          "mark": {"type": "text", "align": "left", "baseline": "middle", "fontSize": 13},
          "encoding": {"x": {"datum": 1998.451, "type": "quantitative"}, "y": {"datum": 17.33, "type": "quantitative"}, "text": {"value": "NH₄"}}
        }
      ]
    }
  ]
}
